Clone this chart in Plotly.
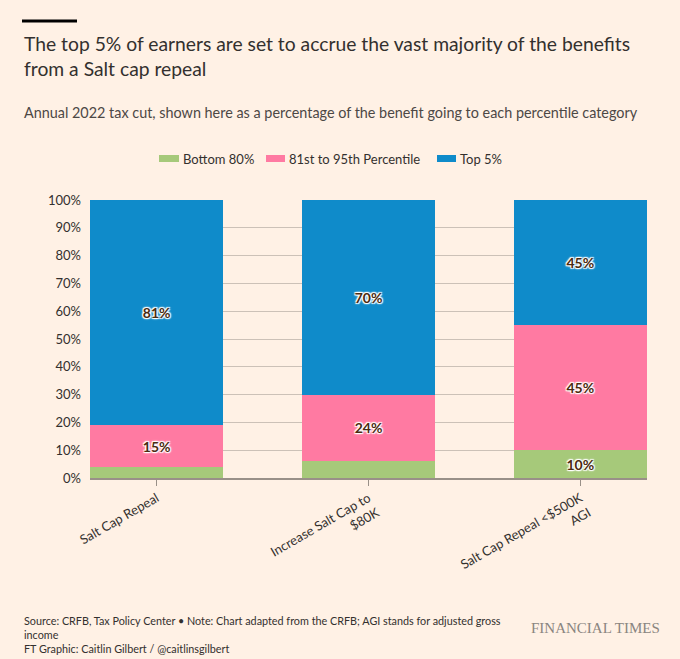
import plotly.graph_objects as go

categories = ["Salt Cap Repeal", "Increase Salt Cap to<br>$80K", "Salt Cap Repeal &lt;$500K<br>AGI"]
bottom80 = [4, 6, 10]
pct81_95 = [15, 24, 45]
top5 = [81, 70, 45]
series_names = ["Bottom 80%", "81st to 95th Percentile", "Top 5%"]
colors = ["#a6c97a", "#ff7aa2", "#0f8bca"]
ytick_vals = [0, 10, 20, 30, 40, 50, 60, 70, 80, 90, 100]

BG = "#fff1e5"
FONT = "Lato"
shadow = "1px 1px 1px #fff, -1px -1px 1px #fff, 1px -1px 1px #fff, -1px 1px 1px #fff, 0 0 3px #fff"

# plot area in pixels
PL, PR, PT, PB = 90, 647, 200, 478
PW, PH = PR - PL, PB - PT


def px(x):
    return (x - PL) / PW


def py(y):
    return (PB - y) / PH


fig = go.Figure()
for name, vals, col in zip(series_names, [bottom80, pct81_95, top5], colors):
    fig.add_trace(go.Bar(
        x=list(range(len(categories))), y=vals, name=name,
        marker=dict(color=col, line=dict(width=0)),
        width=0.63,
        text=[f"{v}%" if v >= 10 else "" for v in vals],
        textposition="inside", insidetextanchor="middle",
        textfont=dict(family=FONT, size=14, color="#4a2a10", weight="bold", shadow=shadow),
        textangle=0,
        hoverinfo="skip",
        showlegend=False,
    ))

fig.update_layout(
    barmode="stack",
    width=680, height=659,
    paper_bgcolor=BG, plot_bgcolor=BG,
    margin=dict(l=PL, r=680 - PR, t=PT, b=659 - PB),
    font=dict(family=FONT, color="#33302e"),
    showlegend=False,
    uniformtext=dict(mode=False),
    xaxis=dict(range=[-0.315, 2.315], tickmode="array", tickvals=list(range(len(categories))),
               ticktext=categories, tickangle=-30, ticks="outside", ticklen=6,
               tickcolor="#999088", tickfont=dict(size=13, color="#33302e"),
               showgrid=False, zeroline=False, showline=True, linecolor="#999088", linewidth=1.5),
    yaxis=dict(range=[0, 100], tickvals=ytick_vals, ticktext=[f"{v}%" for v in ytick_vals],
               ticks="", tickfont=dict(size=13, color="#33302e"), ticklabelstandoff=8,
               showgrid=True, gridcolor="#ccc1b7", gridwidth=1.2, zeroline=False),
)

# top rule
fig.add_shape(type="line", xref="paper", yref="paper", x0=px(22), x1=px(77),
              y0=py(21), y1=py(21), line=dict(color="#000", width=3))

# manual legend
legend_pos = [(159, 179), (266, 285), (437, 456)]
for (x0, x1), name, col in zip(legend_pos, series_names, colors):
    fig.add_shape(type="rect", xref="paper", yref="paper", x0=px(x0), x1=px(x1),
                  y0=py(162), y1=py(155), fillcolor=col, line=dict(width=0))
    fig.add_annotation(xref="paper", yref="paper", x=px(x1 + 2), y=py(158.5), xanchor="left",
                       yanchor="middle", showarrow=False, text=name,
                       font=dict(size=13, color="#33302e", family=FONT))

fig.add_annotation(xref="paper", yref="paper", x=px(22), y=py(30), xanchor="left", yanchor="top",
                   align="left", showarrow=False,
                   text="The top 5% of earners are set to accrue the vast majority of the benefits<br>from a Salt cap repeal",
                   font=dict(size=19.3, color="#33302e", family=FONT))
fig.add_annotation(xref="paper", yref="paper", x=px(22), y=py(113), xanchor="left", yanchor="middle",
                   align="left", showarrow=False,
                   text="Annual 2022 tax cut, shown here as a percentage of the benefit going to each percentile category",
                   font=dict(size=14.4, color="#4d4845", family=FONT))
fig.add_annotation(xref="paper", yref="paper", x=px(22), y=py(612), xanchor="left", yanchor="top",
                   align="left", showarrow=False,
                   text="Source: CRFB, Tax Policy Center • Note: Chart adapted from the CRFB; AGI stands for adjusted gross<br>income<br>FT Graphic: Caitlin Gilbert / @caitlinsgilbert",
                   font=dict(size=10.8, color="#33302e", family=FONT))
fig.add_annotation(xref="paper", yref="paper", x=px(662), y=py(628), xanchor="right", yanchor="middle",
                   showarrow=False, text="FINANCIAL TIMES",
                   font=dict(size=15, color="#8a8580", family="Liberation Serif"))

fig.write_html("out.html", post_script="document.body.style.margin='0';",
               config={"displayModeBar": False})
